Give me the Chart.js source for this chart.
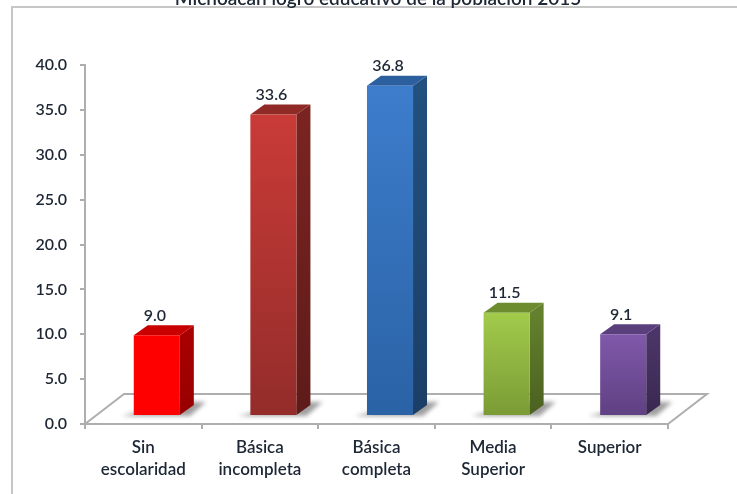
<!DOCTYPE html>
<html>
<head>
<meta charset="utf-8">
<style>
    html, body { margin: 0; padding: 0; background: #fff; }
    canvas { display: block; }
</style>
<script src="https://cdn.jsdelivr.net/npm/chart.js@4"></script>
</head>
<body>
<canvas id="myChart" width="737" height="494"></canvas>
<script>
var titleText = 'Michoacán logro educativo de la población 2015';
var categories = [['Sin', 'escolaridad'], ['Básica', 'incompleta'], ['Básica', 'completa'], ['Media', 'Superior'], ['Superior']];
var values = [9.0, 33.6, 36.8, 11.5, 9.1];

// [front top, front bottom, side top, side bottom, top face]
var barColors = [
    ['#ff0000', '#ff0000', '#a80000', '#980000', '#c80000'],
    ['#c93b37', '#932c2a', '#7a2421', '#5e1b19', '#8f2a26'],
    ['#3d7dcc', '#2a62a5', '#22507f', '#1b3e66', '#2c5f9e'],
    ['#a2cb4b', '#7a9b35', '#64812d', '#4b6020', '#6d8c30'],
    ['#8059aa', '#5f4082', '#4b3568', '#3a2850', '#5a3f7d']
];

var textColor = '#1d2735';
var axisColor = '#aeaeae';
var textFont = 'Lato, "Open Sans", sans-serif';

// 3D look: the bars stand on a floor, back from the axis
var floorDx = 39, floorDy = 30;
var barDx = 13.5, barDy = 8;
var depthX = 14, depthY = 10;

function frontGradient(ctx) {
    var chart = ctx.chart;
    if (ctx.dataIndex === undefined || !chart.chartArea) return barColors[0][0];
    var y = chart.scales.y;
    var top = y.getPixelForValue(values[ctx.dataIndex]);
    var g = chart.ctx.createLinearGradient(0, top, 0, y.getPixelForValue(0));
    g.addColorStop(0, barColors[ctx.dataIndex][0]);
    g.addColorStop(1, barColors[ctx.dataIndex][1]);
    return g;
}

function poly(c, pts, fill) {
    c.beginPath();
    c.moveTo(pts[0][0], pts[0][1]);
    for (var i = 1; i < pts.length; i++) c.lineTo(pts[i][0], pts[i][1]);
    c.closePath();
    c.fillStyle = fill;
    c.fill();
}

var barsIn3d = {
    id: 'barsIn3d',
    beforeDraw: function (chart) {
        // title in the original is centred further right than the plot
        chart.titleBlock.left = 44;
        chart.titleBlock.right = 712;

        // grey frame of the original figure
        var c = chart.ctx;
        c.save();
        c.strokeStyle = '#c6c6c6';
        c.lineWidth = 2;
        c.beginPath();
        c.moveTo(12, chart.height);
        c.lineTo(12, 7);
        c.lineTo(chart.width, 7);
        c.stroke();
        c.restore();
    },
    beforeDatasetsDraw: function (chart) {
        var c = chart.ctx, a = chart.chartArea;
        c.save();
        // floor
        c.strokeStyle = axisColor;
        c.lineWidth = 2;
        c.beginPath();
        c.moveTo(a.left, a.bottom);
        c.lineTo(a.left + floorDx, a.bottom - floorDy);
        c.lineTo(a.right + floorDx, a.bottom - floorDy);
        c.lineTo(a.right, a.bottom);
        c.stroke();

        var bars = chart.getDatasetMeta(0).data;
        bars.forEach(function (el, i) {
            var left = el.x - el.width / 2 + barDx;
            var right = el.x + el.width / 2 + barDx;
            var top = el.y - barDy;
            var base = el.base - barDy;
            var col = barColors[i];

            // shadow on the floor
            c.save();
            c.filter = 'blur(2px)';
            poly(c, [[left - 12, base + 1], [right + 10, base + 1], [right + 26, base - 13], [right, base - 13]], 'rgba(80,80,80,0.55)');
            c.restore();

            // side face
            var g = c.createLinearGradient(0, top, 0, base);
            g.addColorStop(0, col[2]);
            g.addColorStop(1, col[3]);
            poly(c, [[right, top], [right + depthX, top - depthY], [right + depthX, base - depthY], [right, base]], g);
            // top face
            poly(c, [[left, top], [left + depthX, top - depthY], [right + depthX, top - depthY], [right, top]], col[4]);
        });
        c.restore();
    },
    beforeDatasetDraw: function (chart) {
        chart.ctx.save();
        chart.ctx.translate(barDx, -barDy);
    },
    afterDatasetDraw: function (chart) {
        chart.ctx.restore();
    },
    afterDatasetsDraw: function (chart) {
        var c = chart.ctx;
        c.save();
        c.font = '600 16px ' + textFont;
        c.fillStyle = textColor;
        c.textAlign = 'center';
        c.textBaseline = 'middle';
        chart.getDatasetMeta(0).data.forEach(function (el, i) {
            c.fillText(values[i].toFixed(1), el.x + barDx - 2, el.y - barDy - 19.5);
        });
        c.restore();
    }
};

var ctx = document.getElementById('myChart').getContext('2d');
var myChart = new Chart(ctx, {
    type: 'bar',
    data: {
        labels: categories,
        datasets: [{
            data: values,
            backgroundColor: frontGradient,
            borderWidth: 0,
            barPercentage: 0.395,
            categoryPercentage: 1
        }]
    },
    options: {
        responsive: false,
        animation: false,
        layout: {
            padding: { left: 0, right: 69, top: -13, bottom: 0 }
        },
        plugins: {
            legend: { display: false },
            tooltip: { enabled: false },
            title: {
                display: true,
                text: titleText,
                color: textColor,
                font: { family: textFont, size: 19, weight: '600' },
                padding: { top: 0, bottom: 55.2 }
            }
        },
        scales: {
            x: {
                afterFit: function (scale) { scale.height = 70; },
                border: { color: axisColor, width: 2 },
                grid: { drawOnChartArea: false, color: axisColor, tickLength: 5, lineWidth: 2 },
                ticks: {
                    color: textColor,
                    font: { family: textFont, size: 17, weight: '600', lineHeight: 1.294 },
                    padding: 8,
                    autoSkip: false,
                    maxRotation: 0
                }
            },
            y: {
                min: 0,
                max: 40,
                afterFit: function (scale) { scale.width = 85; },
                border: { color: axisColor, width: 2 },
                grid: { drawOnChartArea: false, color: axisColor, tickLength: 5, lineWidth: 2 },
                ticks: {
                    stepSize: 5,
                    color: textColor,
                    font: { family: textFont, size: 16, weight: '600' },
                    padding: 13,
                    callback: function (v) { return v.toFixed(1); }
                }
            }
        }
    },
    plugins: [barsIn3d]
});
</script>
</body>
</html>
